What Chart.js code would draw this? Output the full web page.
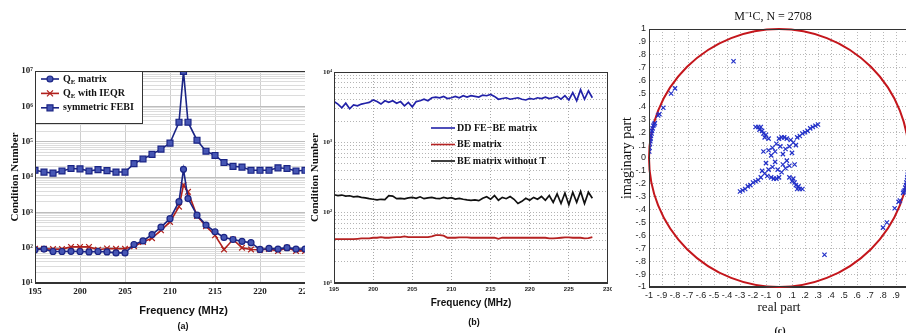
<!DOCTYPE html>
<html>
<head>
<meta charset="utf-8">
<script src="https://cdn.jsdelivr.net/npm/chart.js"></script>
<style>
  body { margin: 0; width: 906px; height: 333px; overflow: hidden; background: #fff; position: relative; }
  .wrap { position: absolute; top: 0; height: 333px; overflow: hidden; }
  .wrap canvas { display: block; }
  .lbl { position: absolute; transform: translate(-50%, -50%); white-space: nowrap; color: #111; }
</style>
</head>
<body>
<div class="wrap" style="left:0;width:305px"><canvas id="ca" width="340" height="333"></canvas></div>
<div class="wrap" style="left:306px;width:306px"><canvas id="cb" width="310" height="333"></canvas></div>
<div class="wrap" style="left:612px;width:294px"><canvas id="cc" width="322" height="333"></canvas></div>
<div class="lbl" style="left:183px;top:326px;font:bold 9px 'Liberation Sans'">(a)</div>
<div class="lbl" style="left:474px;top:322px;font:bold 9px 'Liberation Sans'">(b)</div>
<div class="lbl" style="left:780px;top:330px;font:bold 10px 'Liberation Serif'">(c)</div>
<script>
// (a) condition number vs frequency (MHz), extra sample at the resonance
const freqA    = [195,196,197,198,199,200,201,202,203,204,205,206,207,208,209,210,211,211.5,212,213,214,215,216,217,218,219,220,221,222,223,224,225]
const qeMatrix = [87,91,78,78,79,78,76,78,76,71,71,123,155,234,380,661,2000,16500,2450,832,437,282,195,170,151,138,89,95,91,100,91,91]
const qeIeqr   = [93,93,91,91,105,105,105,87,95,93,93,110,145,186,309,537,1450,5900,3800,794,407,224,89,170,100,89,87,91,81,100,81,81]
const symFebi  = [15500,13800,12900,14800,17400,17000,14800,16200,15100,13800,13800,24000,32400,43600,61700,91200,355000,9800000,355000,110000,53700,40700,25700,20000,19100,15500,15500,15500,18200,17400,14800,15500]
const freqTicksA = [195, 225]   // axis shown 195..228, cropped after 225

// (b) condition number, 0.5 MHz steps
const freqB = [
  195,195.5,196,196.5,197,197.5,198,198.5,199,199.5,
  200,200.5,201,201.5,202,202.5,203,203.5,204,204.5,
  205,205.5,206,206.5,207,207.5,208,208.5,209,209.5,
  210,210.5,211,211.5,212,212.5,213,213.5,214,214.5,
  215,215.5,216,216.5,217,217.5,218,218.5,219,219.5,
  220,220.5,221,221.5,222,222.5,223,223.5,224,224.5,
  225,225.5,226,226.5,227,227.5,228]
const ddFeBe = [
  3800,3500,3100,3600,3000,3400,3300,3500,3600,3700,
  4000,3800,3500,3900,3700,3900,3600,3800,3300,3700,
  3200,3800,3900,4100,3900,4300,4400,4300,4500,4200,
  4300,4500,4300,4600,4400,4600,4500,4400,4700,4600,
  4800,4500,4100,4200,4300,4100,4200,4300,4100,4000,
  4200,4100,4300,4200,4400,4200,4300,4500,4100,4600,
  4000,5100,3900,5600,4100,5400,4300]
const beMatrix = [
  42,42,42,42,42,42,42.5,43,43,43,
  44,44,45,44,44,44.5,45,45,46,45,
  45,45,45,45,45,46,48,48,47,44,
  44,44,44.5,44.5,44.5,44,44,44,44,44,
  44,44,42.5,44,44,44,44,44,44,44,
  44,44,44,44,44,43,43,43.5,44,44.5,
  44.5,44,44,44,43,43.5,45]
const beNoT = [
  180,175,178,172,174,168,170,165,162,158,
  155,152,155,153,175,172,158,160,157,162,
  165,160,168,158,162,165,160,158,165,160,
  163,156,160,155,152,150,152,148,160,168,
  155,175,150,165,158,170,155,135,145,160,
  150,165,155,170,150,175,140,185,135,190,
  130,195,140,200,135,195,160]

// (c) eigenvalues of M^-1 C  [real, imag]
const eigs = [
  [-0.998,0.05],[-0.996,0.08],[-0.993,0.11],[-0.99,0.13],[-0.988,0.15],[-0.985,0.17],[-0.98,0.19],[-0.977,0.21],
  [-0.972,0.23],[-0.967,0.25],[-0.96,0.26],[-0.955,0.27],[-0.93,0.33],[-0.92,0.34],[-0.89,0.39],[-0.83,0.5],[-0.8,0.54],
  [0.998,-0.05],[0.996,-0.08],[0.993,-0.11],[0.99,-0.13],[0.988,-0.15],[0.985,-0.17],[0.98,-0.19],[0.977,-0.21],
  [0.972,-0.23],[0.967,-0.25],[0.96,-0.26],[0.955,-0.27],[0.93,-0.33],[0.92,-0.34],[0.89,-0.39],[0.83,-0.5],[0.8,-0.54],
  [-0.35,0.75],[0.35,-0.75],
  [0.3,0.26],[0.28,0.25],[0.26,0.24],[0.24,0.23],[0.22,0.21],[0.2,0.2],[0.18,0.19],[0.16,0.17],[0.14,0.16],
  [-0.3,-0.26],[-0.28,-0.25],[-0.26,-0.24],[-0.24,-0.22],[-0.22,-0.21],[-0.2,-0.19],[-0.18,-0.18],[-0.16,-0.17],[-0.14,-0.15],
  [-0.18,0.24],[-0.16,0.24],[-0.14,0.24],[-0.15,0.22],[-0.13,0.21],[-0.12,0.19],[-0.1,0.18],[-0.11,0.16],[-0.08,0.15],
  [0.18,-0.24],[0.16,-0.24],[0.14,-0.24],[0.15,-0.22],[0.13,-0.21],[0.12,-0.19],[0.1,-0.18],[0.11,-0.16],[0.08,-0.15],
  [0,0.15],[0.02,0.16],[0.04,0.16],[0.06,0.15],[0.09,0.14],[0.11,0.12],[-0.02,0.11],[0.01,0.09],[-0.05,0.08],
  [-0.08,0.06],[0.05,0.07],[0.08,0.09],[-0.03,0.05],[0.03,0.03],[-0.06,0.02],[0.1,0.04],[-0.12,0.05],[0.13,0.1],
  [0,-0.15],[-0.02,-0.16],[-0.04,-0.16],[-0.06,-0.15],[-0.09,-0.14],[-0.11,-0.12],[0.02,-0.11],[-0.01,-0.09],[0.05,-0.08],
  [0.08,-0.06],[-0.05,-0.07],[-0.08,-0.09],[0.03,-0.05],[-0.03,-0.03],[0.06,-0.02],[-0.1,-0.04],[0.12,-0.05],[-0.13,-0.1]]
const unitCircle = { re: 0, im: 0, r: 1 }

// ---------- helpers
const pts = (xs, ys) => xs.map((x, i) => ({ x, y: ys[i] }))
const sup = n => String(n).split('').map(c => '⁰¹²³⁴⁵⁶⁷⁸⁹'[c]).join('')
const isDec = v => Math.abs(Math.log10(v) - Math.round(Math.log10(v))) < 1e-6
const decLabel = v => isDec(v) ? '10' + sup(Math.round(Math.log10(v))) : ''
const logTicks = (lo, hi) => s => {
  const t = []
  for (let e = lo; e < hi; e++) for (let m = 1; m < 10; m++) t.push({ value: m * 10 ** e })
  t.push({ value: 10 ** hi })
  s.ticks = t
}
const frac = v => {
  const r = Math.round(v * 10) / 10
  if (r === 0) return '0'
  if (Math.abs(r) === 1) return String(r)
  return (r < 0 ? '-' : '') + '.' + Math.round(Math.abs(r) * 10)
}

const frame = { id: 'frame', afterDatasetsDraw(c) {
  const a = c.chartArea, x = c.ctx
  x.save(); x.strokeStyle = '#333'; x.lineWidth = 1
  x.strokeRect(Math.round(a.left) + .5, Math.round(a.top) + .5, Math.round(a.right - a.left) - 1, Math.round(a.bottom - a.top) - 1)
  x.restore()
}}

function marker(x, cx, cy, style, col, fill) {
  x.beginPath()
  if (style === 'circle') x.arc(cx, cy, 3, 0, 2 * Math.PI)
  else if (style === 'rect') x.rect(cx - 3, cy - 3, 6, 6)
  else { x.moveTo(cx - 3, cy - 3); x.lineTo(cx + 3, cy + 3); x.moveTo(cx + 3, cy - 3); x.lineTo(cx - 3, cy + 3) }
  if (fill && style !== 'crossRot') { x.fillStyle = fill; x.fill() }
  x.strokeStyle = col; x.lineWidth = 1.2; x.stroke()
}

// legend entries: text parts [str, isSubscript]
const legendBox = (id, box, rows, opts) => ({ id, afterDatasetsDraw(c) {
  const x = c.ctx, a = c.chartArea
  const L = a.left + box.dx, T = a.top + box.dy
  x.save()
  if (box.w) {
    x.fillStyle = '#fff'; x.fillRect(L, T, box.w, box.h)
    x.strokeStyle = '#333'; x.lineWidth = 1; x.strokeRect(L + .5, T + .5, box.w - 1, box.h - 1)
  }
  rows.forEach((r, i) => {
    const y = T + opts.y0 + i * opts.dy
    x.strokeStyle = r.color; x.lineWidth = opts.lw
    x.beginPath(); x.moveTo(L + opts.l0, y); x.lineTo(L + opts.l1, y); x.stroke()
    if (r.style) marker(x, L + (opts.l0 + opts.l1) / 2, y, r.style, r.color, r.fill)
    let tx = L + opts.t0
    x.fillStyle = '#111'; x.textBaseline = 'middle'; x.textAlign = 'left'
    r.text.forEach(([s, sub]) => {
      x.font = sub ? opts.subFont : opts.font
      x.fillText(s, tx, sub ? y + 3 : y)
      tx += x.measureText(s).width
    })
  })
  x.restore()
}})

const unitPlug = { id: 'unit', beforeDatasetsDraw(c) {
  const sx = c.scales.x, sy = c.scales.y, x = c.ctx
  const cx = sx.getPixelForValue(unitCircle.re), cy = sy.getPixelForValue(unitCircle.im)
  const rx = sx.getPixelForValue(unitCircle.re + unitCircle.r) - cx
  const ry = cy - sy.getPixelForValue(unitCircle.im + unitCircle.r)
  x.save(); x.beginPath(); x.ellipse(cx, cy, rx, ry, 0, 0, 2 * Math.PI)
  x.strokeStyle = '#c4161c'; x.lineWidth = 2; x.stroke(); x.restore()
}}

Chart.defaults.font.family = 'Liberation Serif'
Chart.defaults.color = '#222'
const base = { responsive: false, animation: false, plugins: { legend: { display: false }, tooltip: { enabled: false } } }

// ---------- (a)
const blueA = '#1b2585', redA = '#b0201c', fillA = '#4656b4'
new Chart(document.getElementById('ca'), {
  type: 'line',
  data: { datasets: [
    { data: pts(freqA, qeMatrix), borderColor: blueA, backgroundColor: fillA, borderWidth: 1.6, pointStyle: 'circle', pointRadius: 3, pointBorderWidth: 1.2 },
    { data: pts(freqA, qeIeqr), borderColor: redA, backgroundColor: redA, borderWidth: 1.6, pointStyle: 'crossRot', pointRadius: 4, pointBorderWidth: 1.2 },
    { data: pts(freqA, symFebi), borderColor: blueA, backgroundColor: fillA, borderWidth: 1.6, pointStyle: 'rect', pointRadius: 4.2, pointBorderWidth: 1.2 }
  ]},
  options: { ...base,
    layout: { padding: { top: 71, right: 8, left: 0, bottom: 0 } },
    scales: {
      x: { type: 'linear', min: 195, max: 228, afterFit: s => { s.height = 50 },
        ticks: { stepSize: 5, includeBounds: false, autoSkip: false, maxRotation: 0, padding: 3, font: { size: 9, weight: 'bold' } },
        grid: { drawTicks: false, color: c => c.tick && c.tick.value === freqTicksA[1] ? '#333' : '#cfcfcf' },
        border: { color: '#333' },
        title: { display: true, text: 'Frequency (MHz)', color: '#111', font: { family: 'Liberation Sans', size: 11, weight: 'bold' }, padding: { top: 0, bottom: 15.4 } } },
      y: { type: 'logarithmic', min: 10, max: 1e7, afterBuildTicks: logTicks(1, 7), afterFit: s => { s.width = 35 },
        ticks: { autoSkip: false, callback: decLabel, padding: 2, font: { size: 9, weight: 'bold' } },
        grid: { drawTicks: false, color: c => c.tick && isDec(c.tick.value) ? '#bdbdbd' : '#dcdcdc' },
        border: { color: '#333' },
        title: { display: true, text: 'Condition Number', color: '#111', font: { size: 11, weight: 'bold' }, padding: { top: 8.4, bottom: 0 } } }
    }
  },
  plugins: [frame, legendBox('legA', { dx: 0, dy: 0, w: 108, h: 53 }, [
    { color: blueA, fill: fillA, style: 'circle', text: [['Q', 0], ['E', 1], [' matrix', 0]] },
    { color: redA, style: 'crossRot', text: [['Q', 0], ['E', 1], [' with IEQR', 0]] },
    { color: blueA, fill: fillA, style: 'rect', text: [['symmetric FEBI', 0]] }
  ], { y0: 8, dy: 14.4, l0: 6, l1: 24, t0: 28, lw: 1.6, font: 'bold 10px "Liberation Serif"', subFont: 'bold 7px "Liberation Serif"' })]
})

// ---------- (b)
const blueB = '#2222a8', redB = '#b52222', blackB = '#111111'
new Chart(document.getElementById('cb'), {
  type: 'line',
  data: { datasets: [
    { data: pts(freqB, ddFeBe), borderColor: blueB, borderWidth: 1.7, pointRadius: 0 },
    { data: pts(freqB, beMatrix), borderColor: redB, borderWidth: 1.8, pointRadius: 0 },
    { data: pts(freqB, beNoT), borderColor: blackB, borderWidth: 1.7, pointRadius: 0 }
  ]},
  options: { ...base,
    layout: { padding: { top: 72, right: 8, left: 0, bottom: 0 } },
    scales: {
      x: { type: 'linear', min: 195, max: 230, afterFit: s => { s.height = 50 },
        ticks: { stepSize: 5, autoSkip: false, maxRotation: 0, padding: 3, font: { family: 'Liberation Sans', size: 6, weight: 'bold' } },
        grid: { drawTicks: false, color: '#a8a8a8' },
        border: { color: '#333', dash: [1, 2] },
        title: { display: true, text: 'Frequency (MHz)', color: '#111', font: { family: 'Liberation Sans', size: 10, weight: 'bold' }, padding: { top: 0, bottom: 24 } } },
      y: { type: 'logarithmic', min: 10, max: 1e4, afterBuildTicks: logTicks(1, 4), afterFit: s => { s.width = 28 },
        ticks: { autoSkip: false, callback: decLabel, padding: 2, font: { size: 7, weight: 'bold' } },
        grid: { drawTicks: false, color: '#b4b4b4' },
        border: { color: '#333', dash: [1, 2] },
        title: { display: true, text: 'Condition Number', color: '#111', font: { size: 11, weight: 'bold' }, padding: { top: 2.4, bottom: 0 } } }
    }
  },
  plugins: [frame, legendBox('legB', { dx: 97, dy: 56 }, [
    { color: blueB, text: [['DD FE−BE matrix', 0]] },
    { color: redB, text: [['BE matrix', 0]] },
    { color: blackB, text: [['BE matrix without T', 0]] }
  ], { y0: 0, dy: 16.5, l0: 0, l1: 24, t0: 26, lw: 1.6, font: 'bold 10px "Liberation Serif"', subFont: 'bold 7px "Liberation Serif"' })]
})

// ---------- (c)
new Chart(document.getElementById('cc'), {
  type: 'scatter',
  data: { datasets: [
    { data: eigs.map(([x, y]) => ({ x, y })), borderColor: '#2230c8', backgroundColor: '#2230c8', pointStyle: 'crossRot', pointRadius: 3, borderWidth: 1.2 }
  ]},
  options: { ...base,
    plugins: { ...base.plugins,
      title: { display: true, text: 'M⁻¹C, N = 2708', color: '#111', font: { size: 12, weight: 'normal' }, padding: { top: 10, bottom: 4.6 } } },
    scales: {
      x: { type: 'linear', min: -1, max: 1, afterFit: s => { s.height = 46 },
        ticks: { stepSize: 0.1, autoSkip: false, maxRotation: 0, padding: 3, callback: frac, font: { family: 'Liberation Sans', size: 9 } },
        grid: { drawTicks: false, color: '#b8b8b8' },
        border: { color: '#333', dash: [1, 2] },
        title: { display: true, text: 'real part', color: '#111', font: { size: 13 }, padding: { top: 0, bottom: 17.2 } } },
      y: { type: 'linear', min: -1, max: 1, afterFit: s => { s.width = 37 },
        ticks: { stepSize: 0.1, autoSkip: false, padding: 3, callback: frac, font: { family: 'Liberation Sans', size: 9 } },
        grid: { drawTicks: false, color: '#b8b8b8' },
        border: { color: '#333', dash: [1, 2] },
        title: { display: true, text: 'imaginary part', color: '#111', font: { size: 14 }, padding: { top: 6.6, bottom: 0 } } },
      y2: { type: 'linear', position: 'right', display: true, afterFit: s => { s.width = 25 },
        grid: { display: false }, ticks: { display: false }, border: { display: false } }
    }
  },
  plugins: [unitPlug, frame]
})
</script>
</body>
</html>
